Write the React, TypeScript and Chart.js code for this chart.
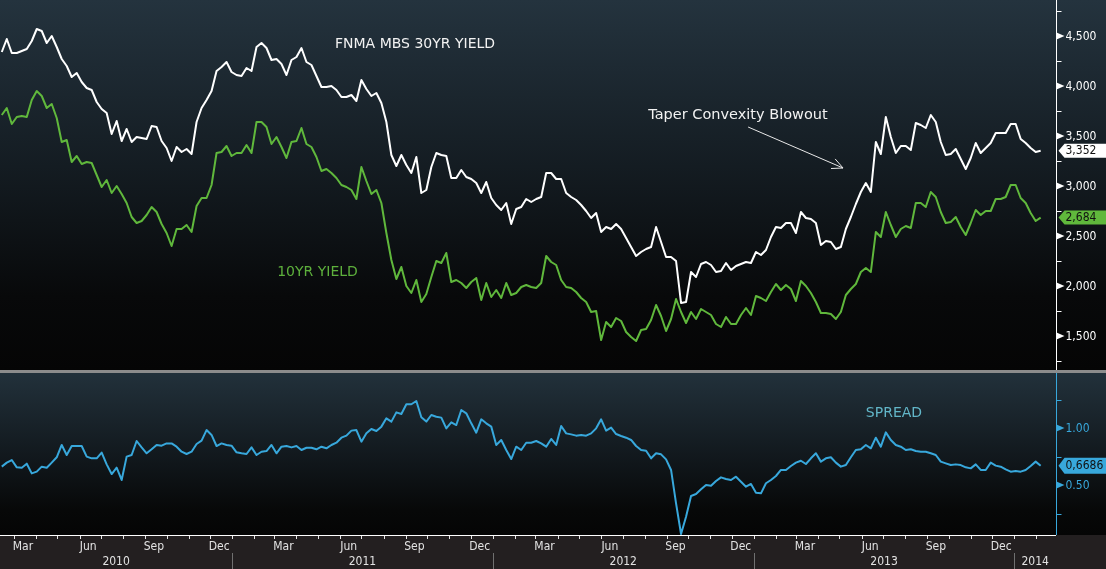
import React, { useEffect, useRef } from "react";
import { Chart, registerables } from "chart.js";
Chart.register(...registerables);

// ---------- data (weekly, first obs 12 Feb 2010) ----------
const EPOCH = Date.UTC(2010, 0, 1);
const DAY_MS = 86400000;
const FIRST_OBS = Date.UTC(2010, 1, 12);
const STEP_DAYS = 7;

const MBS_30YR = [
  4.34, 4.47, 4.33, 4.33, 4.35, 4.37, 4.45, 4.57, 4.55, 4.43,
  4.50, 4.39, 4.27, 4.20, 4.09, 4.13, 4.04, 3.98, 3.96, 3.84,
  3.77, 3.73, 3.52, 3.65, 3.45, 3.57, 3.44, 3.49, 3.48, 3.47,
  3.60, 3.59, 3.45, 3.38, 3.25, 3.39, 3.34, 3.37, 3.32, 3.64,
  3.78, 3.86, 3.95, 4.15, 4.19, 4.24, 4.14, 4.11, 4.10, 4.18,
  4.15, 4.39, 4.43, 4.38, 4.26, 4.27, 4.22, 4.11, 4.26, 4.29,
  4.38, 4.24, 4.21, 4.10, 3.99, 3.99, 4.00, 3.96, 3.89, 3.89,
  3.91, 3.85, 4.06, 3.97, 3.90, 3.93, 3.83, 3.64, 3.31, 3.20,
  3.31, 3.21, 3.13, 3.29, 2.93, 2.96, 3.19, 3.33, 3.31, 3.30,
  3.08, 3.08, 3.16, 3.09, 3.07, 3.03, 2.93, 3.04, 2.88, 2.81,
  2.76, 2.83, 2.62, 2.77, 2.79, 2.87, 2.84, 2.87, 2.89, 3.13,
  3.13, 3.07, 3.07, 2.93, 2.89, 2.86, 2.81, 2.75, 2.68, 2.73,
  2.54, 2.59, 2.57, 2.62, 2.57, 2.48, 2.39, 2.30, 2.34, 2.37,
  2.39, 2.59, 2.44, 2.29, 2.29, 2.25, 1.83, 1.84, 2.14, 2.09,
  2.22, 2.24, 2.21, 2.14, 2.15, 2.23, 2.16, 2.20, 2.22, 2.24,
  2.23, 2.34, 2.31, 2.36, 2.49, 2.59, 2.58, 2.63, 2.63, 2.53,
  2.74, 2.68, 2.67, 2.63, 2.41, 2.45, 2.44, 2.37, 2.39, 2.57,
  2.69, 2.82, 2.94, 3.03, 2.94, 3.44, 3.32, 3.69, 3.49, 3.33,
  3.40, 3.40, 3.36, 3.63, 3.61, 3.58, 3.71, 3.64, 3.44, 3.31,
  3.32, 3.37, 3.27, 3.17, 3.28, 3.43, 3.33, 3.38, 3.43, 3.53,
  3.53, 3.53, 3.62, 3.62, 3.47, 3.43, 3.38, 3.34, 3.352,
];

const UST_10YR = [
  3.71, 3.78, 3.62, 3.69, 3.70, 3.69, 3.86, 3.95, 3.90, 3.78,
  3.82, 3.68, 3.44, 3.46, 3.24, 3.30, 3.22, 3.24, 3.23, 3.11,
  2.99, 3.06, 2.93, 3.00, 2.92, 2.83, 2.69, 2.63, 2.65, 2.71,
  2.79, 2.74, 2.62, 2.53, 2.40, 2.57, 2.57, 2.61, 2.54, 2.80,
  2.88, 2.88, 3.01, 3.33, 3.34, 3.40, 3.30, 3.33, 3.33, 3.41,
  3.33, 3.64, 3.64, 3.59, 3.42, 3.49, 3.39, 3.28, 3.44, 3.45,
  3.58, 3.42, 3.39, 3.29, 3.15, 3.17, 3.13, 3.08, 3.01, 2.99,
  2.96, 2.87, 3.19, 3.05, 2.92, 2.96, 2.83, 2.53, 2.26, 2.07,
  2.19, 2.00, 1.93, 2.06, 1.84, 1.92, 2.09, 2.25, 2.23, 2.33,
  2.04, 2.06, 2.03, 1.98, 2.04, 2.08, 1.86, 2.03, 1.89, 1.96,
  1.88, 2.03, 1.91, 1.93, 1.99, 2.01, 1.99, 1.98, 2.03, 2.30,
  2.24, 2.21, 2.06, 1.99, 1.98, 1.94, 1.88, 1.84, 1.74, 1.75,
  1.46, 1.64, 1.59, 1.68, 1.65, 1.54, 1.49, 1.45, 1.56, 1.57,
  1.66, 1.81, 1.70, 1.55, 1.67, 1.87, 1.74, 1.63, 1.74, 1.67,
  1.77, 1.74, 1.71, 1.62, 1.59, 1.69, 1.62, 1.62, 1.71, 1.78,
  1.71, 1.90, 1.88, 1.85, 1.94, 2.02, 1.96, 2.01, 1.97, 1.85,
  2.05, 2.00, 1.93, 1.84, 1.73, 1.73, 1.72, 1.67, 1.74, 1.91,
  1.97, 2.02, 2.14, 2.18, 2.14, 2.54, 2.49, 2.74, 2.61, 2.49,
  2.57, 2.60, 2.58, 2.83, 2.83, 2.79, 2.94, 2.89, 2.74, 2.63,
  2.64, 2.69, 2.59, 2.51, 2.63, 2.76, 2.71, 2.75, 2.75, 2.87,
  2.87, 2.89, 3.01, 3.01, 2.88, 2.83, 2.73, 2.65, 2.684,
];

const SPREAD = [
  0.661, 0.696, 0.719, 0.655, 0.652, 0.687, 0.602, 0.617, 0.661, 0.652,
  0.696, 0.743, 0.851, 0.763, 0.842, 0.842, 0.842, 0.749, 0.734, 0.734,
  0.784, 0.681, 0.596, 0.652, 0.544, 0.749, 0.763, 0.886, 0.830, 0.778,
  0.813, 0.851, 0.845, 0.865, 0.865, 0.836, 0.792, 0.772, 0.792, 0.860,
  0.889, 0.982, 0.939, 0.842, 0.865, 0.851, 0.845, 0.787, 0.778, 0.772,
  0.830, 0.763, 0.792, 0.798, 0.851, 0.778, 0.836, 0.842, 0.830, 0.842,
  0.807, 0.827, 0.827, 0.813, 0.836, 0.822, 0.851, 0.871, 0.915, 0.933,
  0.977, 0.982, 0.880, 0.953, 0.991, 0.974, 1.012, 1.085, 1.056, 1.137,
  1.123, 1.208, 1.208, 1.237, 1.094, 1.056, 1.114, 1.099, 1.091, 0.997,
  1.050, 1.026, 1.158, 1.129, 1.041, 0.959, 1.076, 1.041, 1.012, 0.851,
  0.895, 0.807, 0.728, 0.836, 0.807, 0.871, 0.871, 0.886, 0.865, 0.836,
  0.904, 0.851, 1.018, 0.953, 0.944, 0.933, 0.939, 0.933, 0.953, 0.997,
  1.076, 0.977, 1.003, 0.947, 0.930, 0.915, 0.895, 0.842, 0.807, 0.801,
  0.734, 0.778, 0.769, 0.725, 0.632, 0.339, 0.070, 0.222, 0.404, 0.421,
  0.462, 0.500, 0.494, 0.535, 0.567, 0.553, 0.544, 0.573, 0.529, 0.485,
  0.509, 0.433, 0.427, 0.515, 0.544, 0.579, 0.632, 0.632, 0.667, 0.696,
  0.713, 0.684, 0.734, 0.778, 0.705, 0.734, 0.743, 0.696, 0.661, 0.675,
  0.743, 0.807, 0.813, 0.851, 0.822, 0.915, 0.836, 0.962, 0.895, 0.851,
  0.836, 0.807, 0.813, 0.798, 0.792, 0.792, 0.778, 0.763, 0.705, 0.690,
  0.675, 0.681, 0.675, 0.655, 0.646, 0.681, 0.632, 0.632, 0.696, 0.670,
  0.661, 0.637, 0.617, 0.623, 0.617, 0.632, 0.667, 0.705, 0.6686,
];

const TOP_MAJOR_TICKS = [1.5, 2.0, 2.5, 3.0, 3.5, 4.0, 4.5];
const TOP_MINOR_TICKS = [1.25, 1.75, 2.25, 2.75, 3.25, 3.75, 4.25, 4.75];
const BOTTOM_MAJOR_TICKS = [0.5, 1.0];
const BOTTOM_MINOR_TICKS = [0.25, 0.75, 1.25];
const MONTH_NAMES = ["Jan", "Feb", "Mar", "Apr", "May", "Jun", "Jul", "Aug", "Sep", "Oct", "Nov", "Dec"];
const LABELLED_MONTHS = [2, 5, 8, 11];
const YEARS = [2010, 2011, 2012, 2013, 2014];

const TITLE_MBS = "FNMA MBS 30YR YIELD";
const TITLE_10Y = "10YR YIELD";
const TITLE_SPREAD = "SPREAD";
const NOTE_TEXT = "Taper Convexity Blowout";

// ---------- layout / style ----------
const W = 1106;
const H = 569;
const AXIS_W = 50;
const XAXIS_H = 34;
const SPLIT_Y = 370;
const SEP_H = 3;
const X_MIN = 39.5;
const X_MAX = 1519.5;
const TOP_MAX = 4.86;
const TOP_MIN = 4.86 - 5.35;
const BOT_MAX = 1 + 428 / 114;
const BOT_MIN = 1 - 107 / 114;

const WHITE = "#ffffff";
const GREEN = "#60b83c";
const BLUE = "#38a8dc";
const AXFONT = '"DejaVu Sans Condensed", "Liberation Sans Narrow", "DejaVu Sans", sans-serif';
const TXFONT = '"DejaVu Sans", sans-serif';

const toDay = (ms: number) => (ms - EPOCH) / DAY_MS;
const firstDay = toDay(FIRST_OBS);
const obsDays = MBS_30YR.map((_, i) => firstDay + i * STEP_DAYS);
const pts = (vals: number[]) => vals.map((v, i) => ({ x: obsDays[i], y: v }));

const fmtTop = (v: number) => v.toFixed(3).replace(".", ",");
const fmtBot = (v: number) => v.toFixed(2);
const fmtLast = (v: number) => v.toFixed(4).replace(".", ",");

const decorPlugin = {
  id: "decor",
  beforeDraw(chart: any) {
    const ctx = chart.ctx;
    ctx.save();
    const g1 = ctx.createLinearGradient(0, 0, 0, SPLIT_Y);
    g1.addColorStop(0, "#24333e");
    g1.addColorStop(0.45, "#141c22");
    g1.addColorStop(0.8, "#08090a");
    g1.addColorStop(1, "#050505");
    ctx.fillStyle = g1;
    ctx.fillRect(0, 0, W, SPLIT_Y);
    ctx.fillStyle = "#8c8c8c";
    ctx.fillRect(0, SPLIT_Y, W, SEP_H);
    const bTop = SPLIT_Y + SEP_H;
    const bBot = chart.chartArea.bottom;
    const g2 = ctx.createLinearGradient(0, bTop, 0, bBot);
    g2.addColorStop(0, "#22313b");
    g2.addColorStop(0.5, "#12191e");
    g2.addColorStop(0.85, "#070808");
    g2.addColorStop(1, "#050505");
    ctx.fillStyle = g2;
    ctx.fillRect(0, bTop, W, bBot - bTop);
    ctx.fillStyle = "#231f20";
    ctx.fillRect(0, bBot, W, H - bBot);
    ctx.restore();
  },
  afterDatasetsDraw(chart: any) {
    const ctx = chart.ctx;
    const xs = chart.scales.x;
    const ys = chart.scales.y;
    const y2 = chart.scales.y2;
    const area = chart.chartArea;
    const axX = area.right + 0.5;
    const bTop = SPLIT_Y + SEP_H;
    ctx.save();

    // right axis lines
    ctx.lineWidth = 1;
    ctx.strokeStyle = WHITE;
    ctx.beginPath();
    ctx.moveTo(axX, 0);
    ctx.lineTo(axX, SPLIT_Y);
    ctx.stroke();
    ctx.strokeStyle = BLUE;
    ctx.beginPath();
    ctx.moveTo(axX, bTop);
    ctx.lineTo(axX, area.bottom);
    ctx.stroke();

    const drawTicks = (scale: any, major: number[], minor: number[], color: string, fmt: (v: number) => string) => {
      ctx.strokeStyle = color;
      ctx.fillStyle = color;
      minor.forEach((v) => {
        const y = Math.round(scale.getPixelForValue(v)) + 0.5;
        ctx.beginPath();
        ctx.moveTo(axX, y);
        ctx.lineTo(axX + 5, y);
        ctx.stroke();
      });
      ctx.font = `12px ${AXFONT}`;
      ctx.textAlign = "left";
      ctx.textBaseline = "middle";
      major.forEach((v) => {
        const y = scale.getPixelForValue(v);
        ctx.beginPath();
        ctx.moveTo(axX, y - 3.5);
        ctx.lineTo(axX + 8, y);
        ctx.lineTo(axX, y + 3.5);
        ctx.closePath();
        ctx.fill();
        ctx.fillText(fmt(v), axX + 9, y + 0.5);
      });
    };
    drawTicks(ys, TOP_MAJOR_TICKS, TOP_MINOR_TICKS, WHITE, fmtTop);
    drawTicks(y2, BOTTOM_MAJOR_TICKS, BOTTOM_MINOR_TICKS, BLUE, fmtBot);

    // last value boxes
    const box = (scale: any, v: number, text: string, fill: string, h: number) => {
      const y = scale.getPixelForValue(v);
      ctx.fillStyle = fill;
      ctx.beginPath();
      ctx.moveTo(axX + 2, y);
      ctx.lineTo(axX + 8, y - h / 2);
      ctx.lineTo(W, y - h / 2);
      ctx.lineTo(W, y + h / 2);
      ctx.lineTo(axX + 8, y + h / 2);
      ctx.closePath();
      ctx.fill();
      ctx.fillStyle = "#111111";
      ctx.font = `12px ${AXFONT}`;
      ctx.textAlign = "left";
      ctx.textBaseline = "middle";
      ctx.fillText(text, axX + 9, y + 0.5);
    };
    const lastMbs = MBS_30YR[MBS_30YR.length - 1];
    const last10 = UST_10YR[UST_10YR.length - 1];
    const lastSp = SPREAD[SPREAD.length - 1];
    box(ys, lastMbs, fmtTop(lastMbs), WHITE, 14);
    box(ys, last10, fmtTop(last10), GREEN, 14);
    box(y2, lastSp, fmtLast(lastSp), BLUE, 16);

    // x axis
    const xb = area.bottom;
    ctx.strokeStyle = WHITE;
    ctx.beginPath();
    ctx.moveTo(0, xb + 0.5);
    ctx.lineTo(area.right, xb + 0.5);
    ctx.stroke();
    ctx.font = `12px ${AXFONT}`;
    ctx.textAlign = "center";
    ctx.textBaseline = "middle";
    for (let yr = 2010; yr <= 2014; yr++) {
      for (let m = 0; m < 12; m++) {
        const d0 = toDay(Date.UTC(yr, m, 1));
        const d1 = toDay(Date.UTC(yr, m + 1, 1));
        if (d0 >= X_MIN && d0 <= X_MAX) {
          const px = Math.round(xs.getPixelForValue(d0)) + 0.5;
          ctx.strokeStyle = "#e6e6e6";
          ctx.beginPath();
          ctx.moveTo(px, xb + 1);
          ctx.lineTo(px, xb + 4);
          ctx.stroke();
        }
        if (LABELLED_MONTHS.includes(m) && d0 >= X_MIN - 5 && d1 <= X_MAX + 5) {
          const mid = xs.getPixelForValue((d0 + d1) / 2);
          ctx.fillStyle = "#e2e2e2";
          ctx.fillText(MONTH_NAMES[m], mid - 2, xb + 12);
        }
      }
    }
    YEARS.forEach((yr) => {
      const d0 = toDay(Date.UTC(yr, 0, 1));
      const d1 = toDay(Date.UTC(yr + 1, 0, 1));
      const p0 = Math.max(area.left, xs.getPixelForValue(d0));
      const p1 = Math.min(area.right, xs.getPixelForValue(d1));
      if (d0 > X_MIN) {
        const px = Math.round(xs.getPixelForValue(d0)) + 0.5;
        ctx.strokeStyle = "#707070";
        ctx.beginPath();
        ctx.moveTo(px, xb + 18);
        ctx.lineTo(px, H);
        ctx.stroke();
      }
      ctx.fillStyle = "#e2e2e2";
      ctx.font = `12px ${AXFONT}`;
      ctx.fillText(String(yr), (p0 + p1) / 2, xb + 27);
    });

    // annotations (placed in data coordinates)
    ctx.textAlign = "left";
    ctx.textBaseline = "middle";
    ctx.font = `14px ${TXFONT}`;
    ctx.fillStyle = "#f2f2f2";
    ctx.fillText(TITLE_MBS, xs.getPixelForValue(509), ys.getPixelForValue(4.42));
    ctx.font = `14.5px ${TXFONT}`;
    ctx.fillText(NOTE_TEXT, xs.getPixelForValue(948), ys.getPixelForValue(3.71));
    ctx.font = `14px ${TXFONT}`;
    ctx.fillStyle = "#5db03c";
    ctx.fillText(TITLE_10Y, xs.getPixelForValue(428), ys.getPixelForValue(2.14));
    ctx.fillStyle = "#62b6c8";
    ctx.fillText(TITLE_SPREAD, xs.getPixelForValue(1253), y2.getPixelForValue(1.13));

    // arrow
    const ax0 = xs.getPixelForValue(1088), ay0 = ys.getPixelForValue(3.59);
    const ax1 = xs.getPixelForValue(1221), ay1 = ys.getPixelForValue(3.18);
    ctx.strokeStyle = "#e8e8e8";
    ctx.lineWidth = 1;
    ctx.beginPath();
    ctx.moveTo(ax0, ay0);
    ctx.lineTo(ax1, ay1);
    const ang = Math.atan2(ay1 - ay0, ax1 - ax0);
    const hl = 12;
    ctx.moveTo(ax1 - hl * Math.cos(ang - 0.45), ay1 - hl * Math.sin(ang - 0.45));
    ctx.lineTo(ax1, ay1);
    ctx.lineTo(ax1 - hl * Math.cos(ang + 0.45), ay1 - hl * Math.sin(ang + 0.45));
    ctx.stroke();

    ctx.restore();
  },
};

export default function App() {
  const ref = useRef<HTMLCanvasElement | null>(null);
  useEffect(() => {
    if (!ref.current) return;
    const chart = new Chart(ref.current, {
      type: "line",
      data: {
        datasets: [
          { label: TITLE_MBS, data: pts(MBS_30YR), yAxisID: "y", borderColor: WHITE, borderWidth: 2, pointRadius: 0, tension: 0, borderJoinStyle: "round" },
          { label: TITLE_10Y, data: pts(UST_10YR), yAxisID: "y", borderColor: GREEN, borderWidth: 2, pointRadius: 0, tension: 0, borderJoinStyle: "round" },
          { label: TITLE_SPREAD, data: pts(SPREAD), yAxisID: "y2", borderColor: BLUE, borderWidth: 2, pointRadius: 0, tension: 0, borderJoinStyle: "round" },
        ],
      } as any,
      options: {
        animation: false,
        responsive: false,
        devicePixelRatio: 1,
        events: [],
        layout: { padding: { left: 0, top: 0, right: AXIS_W, bottom: XAXIS_H } },
        plugins: { legend: { display: false }, tooltip: { enabled: false } },
        scales: {
          x: { type: "linear", min: X_MIN, max: X_MAX, display: false },
          y: { type: "linear", min: TOP_MIN, max: TOP_MAX, display: false },
          y2: { type: "linear", min: BOT_MIN, max: BOT_MAX, display: false, position: "right" },
        },
      } as any,
      plugins: [decorPlugin],
    });
    return () => chart.destroy();
  }, []);
  return (
    <div style={{ position: "fixed", left: 0, top: 0, width: W, height: H, background: "#000" }}>
      <canvas ref={ref} width={W} height={H} style={{ display: "block", width: W, height: H }} />
    </div>
  );
}
